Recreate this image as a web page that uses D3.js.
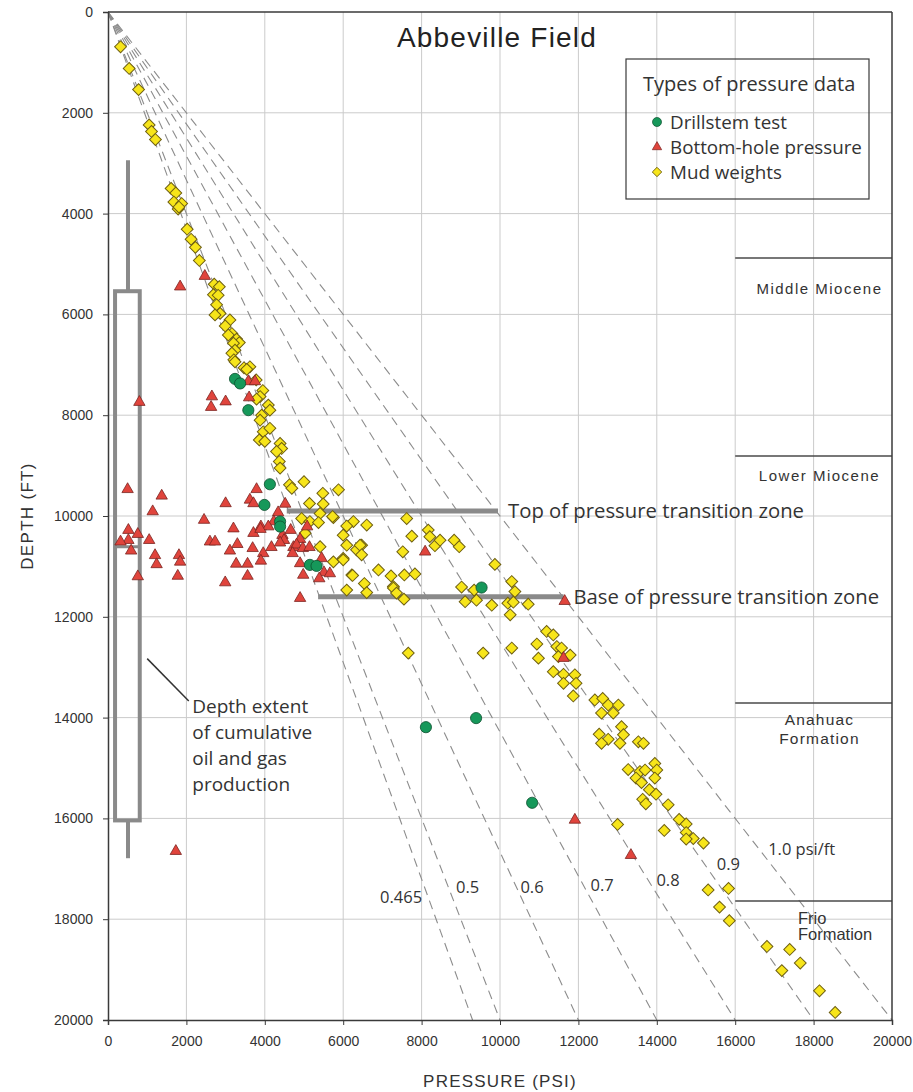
<!DOCTYPE html>
<html>
<head>
<meta charset="utf-8">
<script src="https://cdn.jsdelivr.net/npm/d3@7"></script>
<style>
  html, body { margin: 0; padding: 0; background: #fff; }
  svg { display: block; }
</style>
</head>
<body>
<svg id="chart" width="913" height="1092"></svg>
<script>
// Pressure (psi) vs depth (ft) measurements, Abbeville Field
const drillstemTest = [
  [3240, 7280], [3370, 7370], [3580, 7900], [4130, 9370], [3990, 9780],
  [4390, 10110], [4390, 10210], [5150, 10970], [5320, 10990], [9530, 11420],
  [8110, 14190], [9390, 14010], [10820, 15690]
];

const bottomHolePressure = [
  [1840, 5450], [2470, 5240],
  [2650, 7630], [2630, 7840], [3000, 7730], [3600, 7650], [3580, 7330], [3750, 7330], [800, 7740],
  [500, 9470], [1370, 9600], [1140, 9910], [520, 10280], [520, 10480], [320, 10510], [760, 10360],
  [1050, 10480], [590, 10690], [1200, 10780], [1240, 10960], [1810, 10780], [1840, 10910],
  [1780, 11190], [760, 11200],
  [2450, 10080], [3000, 9750], [3790, 9470], [3620, 9680], [3710, 9750], [3200, 10250],
  [2600, 10510], [2730, 10510], [3300, 10560], [3110, 10690], [3710, 10340], [3900, 10210],
  [3690, 10640], [3960, 10740], [3900, 10890], [3270, 10950], [3560, 10950], [3560, 11190],
  [2990, 11320], [4170, 10620], [4520, 9760], [4340, 9930], [4230, 10110], [4090, 10210],
  [3890, 10260], [4450, 10380], [4660, 10280], [4490, 10480], [4390, 10530], [4730, 10620],
  [4900, 10460], [5080, 10210], [4810, 10570], [4710, 10740], [4970, 10640], [5140, 10620],
  [4900, 10940], [4980, 11170], [5450, 10840], [5510, 11120], [5660, 11140], [5390, 11240],
  [4900, 11630],
  [8090, 10710], [11650, 11690], [11620, 12820], [11910, 16030], [13340, 16730], [1730, 16650]
];

const mudWeights = [
  [320, 690], [540, 1120], [780, 1540], [1050, 2240], [1110, 2370], [1210, 2530],
  [1610, 3500], [1730, 3590], [1680, 3770], [1880, 3800], [1790, 3910], [1810, 3870],
  [2020, 4310], [2120, 4510], [2230, 4670], [2330, 4930], [2710, 5400], [2840, 5450],
  [2690, 5610], [2810, 5620],
  [2770, 5810], [2860, 5980], [2730, 6010], [3110, 6110], [2990, 6230], [3160, 6380],
  [3070, 6410], [3280, 6490], [3350, 6560], [3200, 6570], [3240, 6710], [3160, 6770],
  [3210, 6900], [3240, 6940],
  [3470, 7060], [3620, 7040], [3540, 7090], [3780, 7300], [3950, 7510], [3880, 7630],
  [3790, 7680], [4090, 7800], [4130, 7900], [3920, 8000], [3880, 8100], [3960, 8330],
  [4130, 8260], [3860, 8490], [4000, 8520], [4390, 8560], [4430, 8660], [4300, 8720],
  [4370, 8920], [4390, 9050], [4630, 9380], [4690, 9450],
  [5000, 9320], [5480, 9550], [5880, 9480], [5140, 9750], [5490, 9760], [5410, 9950],
  [4940, 10050], [5150, 10110], [5750, 10030], [5370, 10130], [6260, 10110], [6600, 10180],
  [6090, 10200], [6000, 10380], [6090, 10580], [6340, 10670], [6470, 10580], [5410, 10610],
  [5750, 10910], [6000, 10840], [6220, 11170], [6540, 11340], [6900, 11070], [7220, 11190],
  [6090, 11470], [7280, 11400], [5030, 10340], [5730, 10010],
  [7620, 10050], [7750, 10400], [8170, 10280], [8210, 10410], [8340, 10590], [8470, 10480],
  [8830, 10480], [8960, 10610], [7520, 10710], [6430, 10580], [6470, 10770], [6000, 10870],
  [7560, 11170], [7830, 11150], [7280, 11430], [7360, 11530], [7550, 11650], [6240, 11180],
  [6600, 11520],
  [9020, 11410], [9340, 11470], [9110, 11700], [9400, 11670], [9790, 11770], [9870, 10960],
  [10300, 11300], [10380, 11500], [10200, 11730], [10340, 11710], [10720, 11750], [10260, 11960],
  [7660, 12720], [9570, 12720], [10300, 12620], [10940, 12540], [11190, 12290], [11360, 12360],
  [10980, 12820], [11450, 12590], [11570, 12620], [11790, 12760], [11490, 12790], [11360, 13090],
  [11620, 13140], [11910, 13150], [11620, 13320], [11940, 13320], [11870, 13570],
  [12420, 13650], [12620, 13620], [12760, 13750], [12590, 13910], [12890, 13910], [13020, 13750],
  [12530, 14330], [12760, 14430], [12590, 14510], [13100, 14180], [13150, 14340], [13060, 14510],
  [13530, 14480], [13660, 14510], [13270, 15030], [13570, 15070], [13700, 15040], [13950, 14910],
  [14000, 15040], [13470, 15200], [13610, 15290], [13950, 15200], [13810, 15430], [13980, 15520],
  [13640, 15620], [13720, 15710], [14290, 15730], [14570, 16020], [14750, 16110], [14750, 16280],
  [14930, 16400], [15190, 16490], [14750, 16410], [13000, 16120], [14190, 16240],
  [15310, 17420], [15830, 17390], [15600, 17760], [15850, 18030],
  [16810, 18540], [17390, 18600], [17660, 18870], [17190, 19020], [18150, 19420], [18550, 19850]
];

// Pressure gradients (psi/ft) drawn as reference lines from the origin
const gradients = [0.465, 0.5, 0.6, 0.7, 0.8, 0.9, 1.0];
const gradientLabels = ["0.465", "0.5", "0.6", "0.7", "0.8", "0.9", "1.0 psi/ft"];

// Formation tops (ft) and names
const formationTops = [4880, 8810, 13710, 17640];
const formationNames = [["Middle Miocene"], ["Lower Miocene"], ["Anahuac", "Formation"], ["Frio", "Formation"]];

// Depth extent of cumulative oil and gas production (ft)
const productionExtent = { whiskerTop: 2940, boxTop: 5540, median: 10610, boxBottom: 16040, whiskerBottom: 16790 };

// Pressure transition zone (depth ft, from psi, to psi)
const transitionZone = [
  { label: "Top of pressure transition zone", depth: 9900, from: 4560, to: 9950 },
  { label: "Base of pressure transition zone", depth: 11600, from: 5360, to: 11620 }
];

const xTicks = d3.range(0, 20001, 2000);
const yTicks = d3.range(0, 20001, 2000);

// ---- layout ----
const margin = { left: 108, top: 12, right: 21, bottom: 72 };
const W = 913, H = 1092;
const svg = d3.select("#chart");
const x = d3.scaleLinear().domain([0, 20000]).range([margin.left, W - margin.right]);
const y = d3.scaleLinear().domain([0, 20000]).range([margin.top, H - margin.bottom]);

const annFont = "'Open Sans', 'Noto Sans', sans-serif";
const axFont = "'Liberation Sans', Arial, sans-serif";
const textCol = "#333";

// grid
const grid = svg.append("g");
grid.selectAll("line.v").data(xTicks.filter(d => d > 0 && d < 20000)).join("line")
  .attr("x1", d => x(d)).attr("x2", d => x(d)).attr("y1", y(0)).attr("y2", y(20000))
  .attr("stroke", "#cbcbcb").attr("stroke-width", 1);
grid.selectAll("line.h").data(yTicks.filter(d => d > 0 && d < 20000)).join("line")
  .attr("x1", x(0)).attr("x2", x(20000)).attr("y1", d => y(d)).attr("y2", d => y(d))
  .attr("stroke", "#cbcbcb").attr("stroke-width", 1);

// gradient lines
svg.append("g").selectAll("line").data(gradients).join("line")
  .attr("x1", x(0)).attr("y1", y(0))
  .attr("x2", d => x(d * 20000)).attr("y2", y(20000))
  .attr("stroke", "#8c8c8c").attr("stroke-width", 1.1)
  .attr("stroke-dasharray", "9,6");

// gradient labels
const gradLabelPos = [
  [6940, 17560], [8880, 17360], [10520, 17360], [12310, 17320], [13990, 17220], [15530, 16910], [16840, 16620]
];
svg.append("g").selectAll("text").data(gradientLabels).join("text")
  .attr("x", (d, i) => x(gradLabelPos[i][0]))
  .attr("y", (d, i) => y(gradLabelPos[i][1]))
  .attr("dy", "0.35em")
  .attr("font-family", annFont).attr("font-size", 16.5).attr("fill", textCol)
  .text(d => d);

// formation boundaries
const fm = svg.append("g");
fm.selectAll("line").data(formationTops).join("line")
  .attr("x1", x(16000)).attr("x2", x(20000))
  .attr("y1", d => y(d)).attr("y2", d => y(d))
  .attr("stroke", "#4a4a4a").attr("stroke-width", 1.5);
const fmLabelPos = [
  { cx: 18150, cy: 5590, anchor: "middle", size: 15, ls: 1.5 },
  { cx: 18150, cy: 9300, anchor: "middle", size: 15, ls: 1.5 },
  { cx: 18150, cy: 14140, anchor: "middle", size: 15.5, ls: 1.2 },
  { cx: 17600, cy: 18100, anchor: "start", size: 16.5, ls: 0 }
];
formationNames.forEach((lines, i) => {
  const p = fmLabelPos[i];
  const t = fm.append("text")
    .attr("x", x(p.cx)).attr("y", y(p.cy))
    .attr("text-anchor", p.anchor)
    .attr("font-family", axFont).attr("font-size", p.size).attr("fill", textCol)
    .attr("letter-spacing", p.ls);
  lines.forEach((l, j) => {
    t.append("tspan").attr("x", x(p.cx)).attr("dy", j === 0 ? 0 : (i === 3 ? 16 : 19)).text(l);
  });
});

// production extent box
const pe = productionExtent;
const bp = svg.append("g").attr("stroke", "#8a8a8a").attr("stroke-width", 4).attr("fill", "none");
bp.append("line").attr("x1", x(510)).attr("x2", x(510)).attr("y1", y(pe.whiskerTop)).attr("y2", y(pe.boxTop));
bp.append("line").attr("x1", x(510)).attr("x2", x(510)).attr("y1", y(pe.boxBottom)).attr("y2", y(pe.whiskerBottom));
bp.append("rect").attr("x", x(180)).attr("y", y(pe.boxTop))
  .attr("width", x(810) - x(180)).attr("height", y(pe.boxBottom) - y(pe.boxTop));
bp.append("line").attr("x1", x(180)).attr("x2", x(810)).attr("y1", y(pe.median)).attr("y2", y(pe.median))
  .attr("stroke-width", 3);

// annotation for production extent
svg.append("line")
  .attr("x1", x(1000)).attr("y1", y(12830))
  .attr("x2", x(2060)).attr("y2", y(13670))
  .attr("stroke", "#333").attr("stroke-width", 1.5);
const ann = svg.append("text")
  .attr("font-family", annFont).attr("font-size", 19).attr("fill", textCol);
["Depth extent", "of cumulative", "oil and gas", "production"].forEach((l, j) => {
  ann.append("tspan").attr("x", x(2150)).attr("y", y(13780) + 6 + j * 26).text(l);
});

// transition zone lines
const tz = svg.append("g");
tz.selectAll("line").data(transitionZone).join("line")
  .attr("x1", d => x(d.from)).attr("x2", d => x(d.to))
  .attr("y1", d => y(d.depth)).attr("y2", d => y(d.depth))
  .attr("stroke", "#8a8a8a").attr("stroke-width", 5);
tz.selectAll("text").data(transitionZone).join("text")
  .attr("x", d => x(d.to) + 10)
  .attr("y", d => y(d.depth))
  .attr("dy", "0.35em")
  .attr("font-family", annFont).attr("font-size", 20.3).attr("fill", textCol)
  .text(d => d.label);

// data markers
const diamondFill = "#f7e51a", diamondStroke = "#6e5f12";
const triFill = "#e0443c", triStroke = "#7a2421";
const circFill = "#16985a", circStroke = "#0d4f2e";

svg.append("g").selectAll("path").data(mudWeights).join("path")
  .attr("transform", d => `translate(${x(d[0])},${y(d[1])}) rotate(45)`)
  .attr("d", d3.symbol(d3.symbolSquare, 70)())
  .attr("fill", diamondFill).attr("stroke", diamondStroke).attr("stroke-width", 1);

svg.append("g").selectAll("path").data(bottomHolePressure).join("path")
  .attr("transform", d => `translate(${x(d[0])},${y(d[1])})`)
  .attr("d", d3.symbol(d3.symbolTriangle, 56)())
  .attr("fill", triFill).attr("stroke", triStroke).attr("stroke-width", 0.8);

svg.append("g").selectAll("circle").data(drillstemTest).join("circle")
  .attr("cx", d => x(d[0])).attr("cy", d => y(d[1])).attr("r", 5.6)
  .attr("fill", circFill).attr("stroke", circStroke).attr("stroke-width", 0.8);

// axes
const yAxis = d3.axisLeft(y).tickValues(yTicks).tickSize(5).tickPadding(10).tickFormat(d3.format("d"));
const xAxis = d3.axisBottom(x).tickValues(xTicks).tickSize(5).tickPadding(11).tickFormat(d3.format("d"));
const gy = svg.append("g").attr("transform", `translate(${x(0)},0)`).call(yAxis);
const gx = svg.append("g").attr("transform", `translate(0,${y(20000)})`).call(xAxis);
[gx, gy].forEach(g => {
  g.select(".domain").attr("stroke", "#3a3a3a").attr("stroke-width", 1.5);
  g.selectAll(".tick line").attr("stroke", "#3a3a3a");
  g.selectAll(".tick text").attr("font-family", axFont).attr("font-size", 14).attr("fill", textCol);
});
// frame top and right
svg.append("line").attr("x1", x(0)).attr("x2", x(20000)).attr("y1", y(0)).attr("y2", y(0))
  .attr("stroke", "#3a3a3a").attr("stroke-width", 1.5);
svg.append("line").attr("x1", x(20000)).attr("x2", x(20000)).attr("y1", y(0)).attr("y2", y(20000))
  .attr("stroke", "#3a3a3a").attr("stroke-width", 1.5);

// axis titles
svg.append("text").attr("x", (x(0) + x(20000)) / 2).attr("y", 1087)
  .attr("text-anchor", "middle").attr("font-family", axFont).attr("font-size", 17).attr("fill", textCol)
  .attr("letter-spacing", 1.2)
  .text("PRESSURE (PSI)");
svg.append("text").attr("transform", `translate(33,${(y(0) + y(20000)) / 2}) rotate(-90)`)
  .attr("text-anchor", "middle").attr("font-family", axFont).attr("font-size", 17).attr("fill", textCol)
  .attr("letter-spacing", 1.3)
  .text("DEPTH (FT)");

// title
svg.append("text").attr("x", 497).attr("y", 47)
  .attr("text-anchor", "middle").attr("font-family", axFont).attr("font-size", 28)
  .attr("letter-spacing", 1.2).attr("fill", "#222")
  .text("Abbeville Field");

// legend
const lg = svg.append("g").attr("transform", "translate(626,59)");
lg.append("rect").attr("width", 243).attr("height", 140)
  .attr("fill", "none").attr("stroke", "#3a3a3a").attr("stroke-width", 1.2);
lg.append("text").attr("x", 17).attr("y", 32)
  .attr("font-family", annFont).attr("font-size", 20).attr("fill", textCol)
  .text("Types of pressure data");
const legendItems = [
  { label: "Drillstem test", kind: "circle" },
  { label: "Bottom-hole pressure", kind: "triangle" },
  { label: "Mud weights", kind: "diamond" }
];
legendItems.forEach((it, i) => {
  const cy = 63 + i * 25;
  if (it.kind === "circle") {
    lg.append("circle").attr("cx", 31).attr("cy", cy).attr("r", 4.5)
      .attr("fill", circFill).attr("stroke", circStroke).attr("stroke-width", 0.7);
  } else if (it.kind === "triangle") {
    lg.append("path").attr("transform", `translate(31,${cy})`)
      .attr("d", d3.symbol(d3.symbolTriangle, 38)())
      .attr("fill", triFill).attr("stroke", triStroke).attr("stroke-width", 0.7);
  } else {
    lg.append("path").attr("transform", `translate(31,${cy}) rotate(45)`)
      .attr("d", d3.symbol(d3.symbolSquare, 44)())
      .attr("fill", diamondFill).attr("stroke", diamondStroke).attr("stroke-width", 0.9);
  }
  lg.append("text").attr("x", 44).attr("y", cy).attr("dy", "0.35em")
    .attr("font-family", annFont).attr("font-size", 18.8).attr("fill", textCol)
    .text(it.label);
});
</script>
</body>
</html>
